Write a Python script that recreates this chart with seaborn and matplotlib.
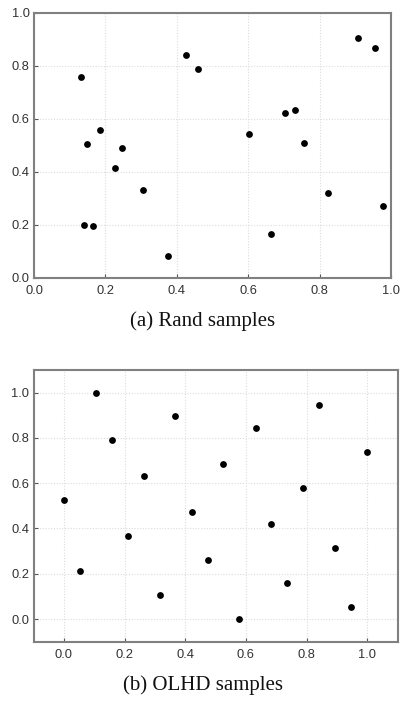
import matplotlib
matplotlib.use("Agg")
import matplotlib.pyplot as plt
import seaborn as sns
import pandas as pd

sns.set_theme(style="white")
plt.rcParams['font.family'] = ['Liberation Sans', 'DejaVu Sans']

# (a) Rand samples
rand_x = [0.133, 0.148, 0.184, 0.141, 0.165, 0.228, 0.247, 0.304, 0.374, 0.427,
          0.459, 0.601, 0.665, 0.704, 0.732, 0.755, 0.824, 0.908, 0.955, 0.978]
rand_y = [0.758, 0.502, 0.557, 0.200, 0.194, 0.412, 0.487, 0.332, 0.080, 0.841,
          0.787, 0.540, 0.164, 0.622, 0.632, 0.509, 0.319, 0.905, 0.867, 0.269]

# (b) OLHD samples
olhd_x = [0.000, 0.053, 0.105, 0.158, 0.211, 0.263, 0.316, 0.368, 0.421, 0.474,
          0.526, 0.579, 0.632, 0.684, 0.737, 0.789, 0.842, 0.895, 0.947, 1.000]
olhd_y = [0.526, 0.211, 1.000, 0.789, 0.368, 0.632, 0.105, 0.895, 0.474, 0.263,
          0.684, 0.000, 0.842, 0.421, 0.158, 0.579, 0.947, 0.316, 0.053, 0.737]

ticks = [0.0, 0.2, 0.4, 0.6, 0.8, 1.0]
tick_labels = ["0.0", "0.2", "0.4", "0.6", "0.8", "1.0"]
captions = ["(a) Rand samples", "(b) OLHD samples"]

W, H = 401, 706
fig = plt.figure(figsize=(W / 100, H / 100), dpi=100)

def px_axes(l, t, r, b):
    return fig.add_axes([l / W, 1 - b / H, (r - l) / W, (b - t) / H])

ax_a = px_axes(34, 12.5, 391, 277.5)
ax_b = px_axes(33.5, 370, 397.5, 641.7)

df_a = pd.DataFrame({"x": rand_x, "y": rand_y})
df_b = pd.DataFrame({"x": olhd_x, "y": olhd_y})

for ax, df, lim in [(ax_a, df_a, (0, 1)), (ax_b, df_b, (-0.1, 1.1))]:
    ax.grid(True, color="#dcdcdc", linestyle=(0, (1, 1.5)), linewidth=0.8)
    ax.set_axisbelow(True)
    sns.scatterplot(data=df, x="x", y="y", ax=ax, color="black", s=24,
                    edgecolor="black", linewidth=0, zorder=3)
    ax.set_xlim(*lim)
    ax.set_ylim(*lim)
    ax.set_xticks(ticks)
    ax.set_yticks(ticks)
    ax.set_xticklabels(tick_labels)
    ax.set_yticklabels(tick_labels)
    ax.set_xlabel("")
    ax.set_ylabel("")
    ax.tick_params(axis="both", direction="in", length=3, width=0.8,
                   color="#555555", labelsize=9.3, labelcolor="#333333",
                   bottom=True, left=True)
    ax.tick_params(axis="x", pad=5.5)
    ax.tick_params(axis="y", pad=3)
    for sp in ax.spines.values():
        sp.set_color("#808080")
        sp.set_linewidth(1.5)
        sp.set_visible(True)

fig.text(203 / W, 1 - 321.5 / H, captions[0], ha="center", va="center",
         fontsize=15, family=["Liberation Serif", "DejaVu Serif"], color="#111111")
fig.text(203 / W, 1 - 685.5 / H, captions[1], ha="center", va="center",
         fontsize=15, family=["Liberation Serif", "DejaVu Serif"], color="#111111")

fig.savefig("out.png", dpi=100, facecolor="white")
